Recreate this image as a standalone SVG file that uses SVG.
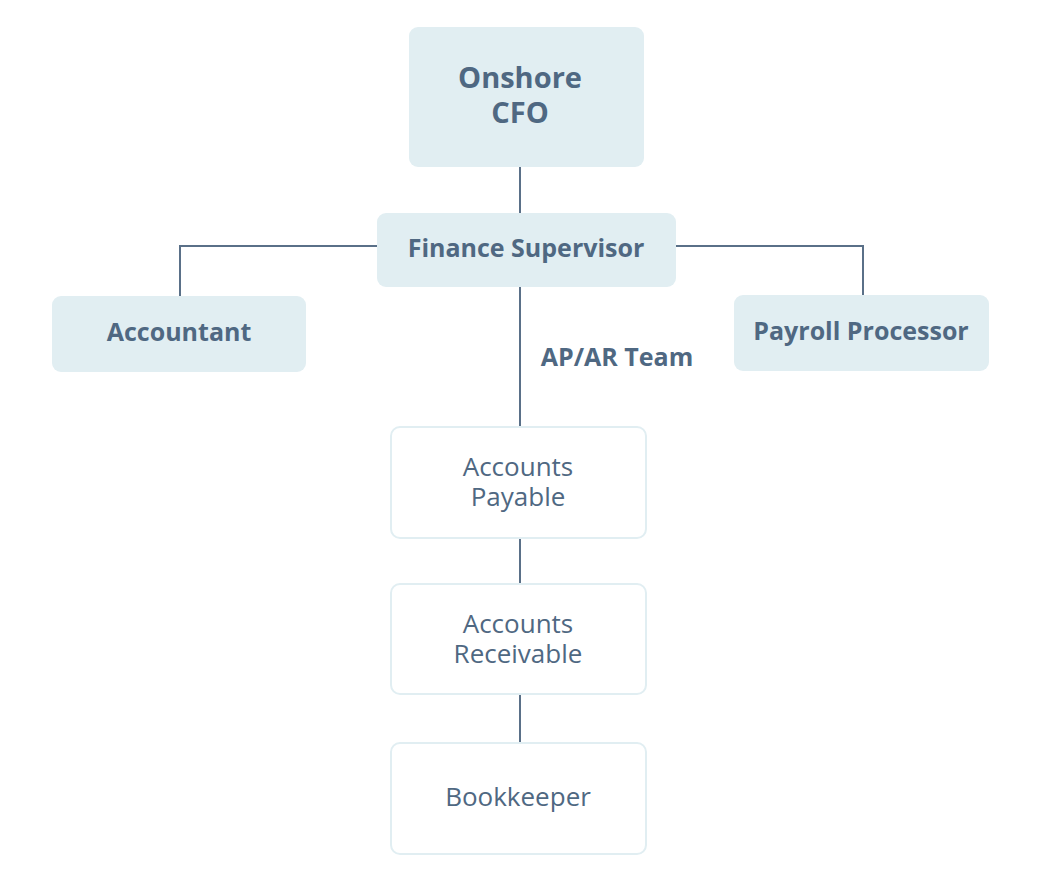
<svg xmlns="http://www.w3.org/2000/svg" width="1042" height="896" viewBox="0 0 1042 896">
<style>
.f{fill:#e1eef2}
.w{fill:#ffffff;stroke:#e1eef2;stroke-width:2}
.t{font-family:"Open Sans","Noto Sans",sans-serif;fill:#4f6882;text-anchor:middle}
.b{font-weight:bold;font-size:25px}
.r{font-size:26px}
.c{fill:none;stroke:#5a7088;stroke-width:2}
</style>
<rect width="1042" height="896" fill="#ffffff"/>
<g id="connectors">
<path class="c" d="M520 167V213"/>
<path class="c" d="M377 246H180V296"/>
<path class="c" d="M676 246H863V295"/>
<path class="c" d="M520 287V427"/>
<path class="c" d="M520 538V584"/>
<path class="c" d="M520 694V743"/>
<text class="t b" x="617" y="366">AP/AR Team</text>
</g>
<g id="cfo">
<rect class="f" x="409" y="27" width="235" height="140" rx="9"/>
<text class="t b" x="520" y="88" style="font-size:29px">Onshore</text>
<text class="t b" x="520" y="123" style="font-size:29px">CFO</text>
</g>
<g id="supervisor">
<rect class="f" x="377" y="213" width="299" height="74" rx="9"/>
<text class="t b" x="526" y="257">Finance Supervisor</text>
</g>
<g id="accountant">
<rect class="f" x="52" y="296" width="254" height="76" rx="9"/>
<text class="t b" x="179" y="341">Accountant</text>
</g>
<g id="payroll">
<rect class="f" x="734" y="295" width="255" height="76" rx="9"/>
<text class="t b" x="861" y="340">Payroll Processor</text>
</g>
<g id="ap">
<rect class="w" x="391" y="427" width="255" height="111" rx="9"/>
<text class="t r" x="518" y="476">Accounts</text>
<text class="t r" x="518" y="506">Payable</text>
</g>
<g id="ar">
<rect class="w" x="391" y="584" width="255" height="110" rx="9"/>
<text class="t r" x="518" y="633">Accounts</text>
<text class="t r" x="518" y="663">Receivable</text>
</g>
<g id="bookkeeper">
<rect class="w" x="391" y="743" width="255" height="111" rx="9"/>
<text class="t r" x="518" y="806">Bookkeeper</text>
</g>
</svg>
